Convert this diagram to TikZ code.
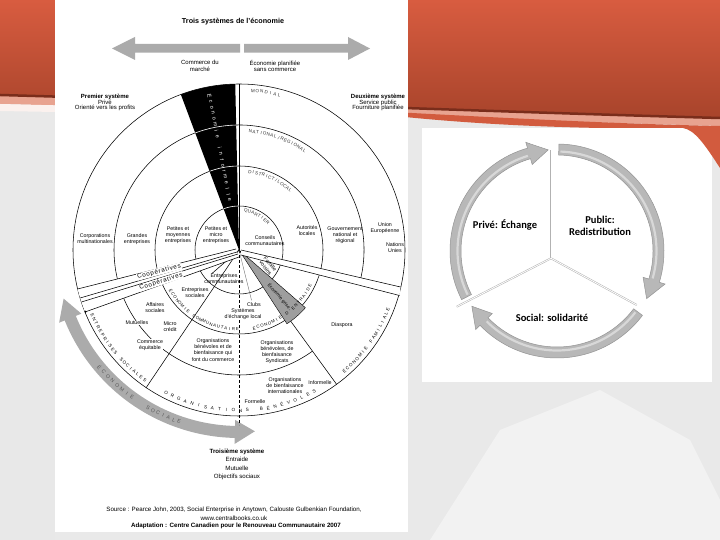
\documentclass[tikz,border=0pt]{standalone}
\usepackage{fontspec}
\setmainfont{Liberation Sans}
\newfontfamily\carl{Carlito}
\usetikzlibrary{calc}
\definecolor{redtop}{HTML}{D85C40}
\definecolor{redbot}{HTML}{A8442B}
\definecolor{reddark}{HTML}{7A2D1B}
\definecolor{pinkc}{HTML}{E8A390}
\definecolor{redmid}{HTML}{D25B3E}
\definecolor{bgg}{HTML}{E9E9E9}
\newcommand\myfs[2]{\fontsize{#1}{#2}\selectfont}
% letters along an arc: center, radius, start angle, step, rotation offset, style, list
\newcommand\arclet[7]{%
  \foreach \ch [count=\ii from 0] in {#7} {%
    \pgfmathsetmacro\ang{#3+\ii*#4}%
    \node[#6, rotate=\ang+#5] at ($(#1)+(\ang:#2)$) {\ch};
  }}
% curved arrow of the cycle: start angle, tip angle (clockwise)
\newcommand\cycarrow[2]{%
  \pgfmathsetmacro\hb{#2+11}%
  \filldraw[cyc] ($(K)+(#1:107)$) arc[start angle=#1, end angle=\hb, radius=107]
    -- ($(K)+(\hb:113)$) -- ($(K)+(#2:101.5)$) -- ($(K)+(\hb:90)$) -- ($(K)+(\hb:96)$)
    arc[start angle=\hb, end angle=#1, radius=96] -- cycle;
  \draw[white, opacity=0.45, line width=2.2] ($(K)+(#1-1:99.5)$) arc[start angle=#1-1, end angle=\hb+1, radius=99.5];
}
\tikzset{
  lab/.style={font=\myfs{5.3}{6.1}, align=center, inner sep=0pt},
  labw/.style={lab, fill=white, inner sep=0.5pt},
  ring/.style={line width=0.55pt},
  rlab/.style={font=\myfs{4.6}{4.6}, inner sep=0pt, text=black!80},
  olab/.style={font=\myfs{4.6}{4.6}, inner sep=0pt},
  ilab/.style={font=\myfs{4.3}{4.3}, inner sep=0pt},
  alab/.style={font=\myfs{5.2}{5.2}, inner sep=0pt, text=black!65},
  wlab/.style={font=\myfs{5.4}{5.4}, inner sep=0pt, text=white},
  garrow/.style={fill=black!33},
  cyc/.style={fill=black!28, draw=black!42, line width=0.5pt},
  cyclab/.style={font=\carl\bfseries\myfs{10.5}{12.5}, align=center, inner sep=0pt},
  coop/.style={font=\myfs{6.2}{6.2}\addfontfeature{LetterSpace=12}, fill=white, inner sep=0.5pt},
  sys/.style={font=\myfs{6}{5.9}, align=center, inner sep=0pt},
  src/.style={font=\myfs{6.2}{6.2}, inner sep=0pt},
}
\begin{document}
\begin{tikzpicture}[x=1pt,y=1pt]
\useasboundingbox (0,0) rectangle (720,540);
% ---------- slide background ----------
\fill[bgg] (0,0) rectangle (720,540);
\fill[black!9] (0,0) rectangle (55,250);
\fill[black!5] (430,0) -- (500,110) -- (600,150) -- (690,100) -- (720,40) -- (720,0) -- cycle;
% right panel
\fill[white] (422,158) rectangle (712,412);
% red header
\shade[top color=redtop, bottom color=redbot] (0,540) -- (720,540) -- (720,422)
  .. controls (500,428) and (250,438) .. (0,445) -- cycle;
\fill[pinkc] (0,445) .. controls (250,438) and (500,428) .. (720,422) -- (720,414)
  .. controls (500,420) and (250,430) .. (0,436) -- cycle;
\fill[redmid] (330,431.5) .. controls (500,422) and (620,416) .. (720,414) -- (720,372)
  .. controls (705,395) and (695,410) .. (683,412) -- (600,412)
  .. controls (500,414) and (420,420) .. (330,431.5) -- cycle;
\draw[reddark, line width=2.5] (0,445) .. controls (250,438) and (500,428) .. (720,422);
\fill[white!85!pinkc] (0,436) .. controls (20,435.5) and (40,435) .. (55,434.7) -- (55,428) -- (0,429) -- cycle;

% ---------- left panel ----------
\fill[white] (55,8) rectangle (408,540);
\begin{scope}
\clip (55,8) rectangle (408,540);
\coordinate (C) at (239,290);
% title and top arrows
\node[font=\bfseries\myfs{7.2}{7.2}] (title) at (233,518) {Trois systèmes de l'économie};
\fill[garrow] (112,491.5) -- (135,503) -- (135,496) -- (240,496) -- (240,487.3) -- (135,487.3) -- (135,480) -- cycle;
\fill[garrow] (370,491.5) -- (348,503) -- (348,496) -- (244,496) -- (244,487.3) -- (348,487.3) -- (348,480) -- cycle;
\node[lab, font=\myfs{6}{6.6}] (cm) at (200,474) {Commerce du\\marché};
\node[lab, font=\myfs{6}{6.6}] (ep) at (275,474) {Économie planifiée\\sans commerce};
\node[sys] (s1) at (105,437.5) {\textbf{Premier système}\\Privé\\Orienté vers les profits};
\node[sys] (s2) at (378,437.5) {\textbf{Deuxième système}\\Service public\\Fourniture planifiée};
% Économie sociale arrow
\fill[garrow] ($(C)+(202:188)$) arc[start angle=202, end angle=268.7, radius=188]
  -- ($(C)+(268.7:194)$) -- ($(C)+(275:182)$) -- ($(C)+(268.7:170)$) -- ($(C)+(268.7:176)$)
  arc[start angle=268.7, end angle=202, radius=176]
  -- ($(C)+(202:170)$) -- ($(C)+(195.5:182)$) -- ($(C)+(202:194)$) -- cycle;
\arclet{C}{182}{220}{2.0}{90}{alab}{É,C,O,N,O,M,I,E}
\arclet{C}{182}{240}{1.8}{90}{alab}{S,O,C,I,A,L,E}
% rings
\draw[ring] (C) circle[radius=166];
\draw[ring] (C) circle[radius=84];
\draw[ring] (C) circle[radius=44];
\draw[ring] ($(C)+(-13:125)$) arc[start angle=-13, end angle=193.6, radius=125];
\draw[ring] ($(C)+(202:125)$) arc[start angle=202, end angle=306, radius=125];
% vertical divider and black wedge
\draw[ring] (C) -- ($(C)+(90:166)$);
\fill[black] (C) -- ($(C)+(110.5:166)$) arc[start angle=110.5, end angle=91.3, radius=166] -- cycle;
\foreach \r in {125,84,44}
  \draw[white, line width=0.6] ($(C)+(91.3:\r)$) arc[start angle=91.3, end angle=110.5, radius=\r];
\foreach \ch [count=\ii from 0] in {É,c,o,n,o,m,i,e,{},i,n,f,o,r,m,e,l,l,e} {
  \pgfmathsetmacro\rr{157-\ii*5.9}
  \node[wlab, rotate=-79.25] at ($(C)+(100.75:\rr)$) {\ch};
}
% lower half lines
\draw[ring] (C) -- ($(C)+(236:166)$);
\draw[ring] (C) -- ($(C)+(221:36)$);
\draw[ring, densely dashed, line width=0.45] (C) -- (239,115);
\draw[black!60, line width=0.35] (C) -- ($(C)+(-76:52)$);
\filldraw[fill=black!38, draw=black, line width=0.4] (C) -- ($(C)+(-57:88)$) arc[start angle=-57, end angle=-41, radius=88] -- cycle;
\draw[ring] ($(C)+(-54:88)$) -- ($(C)+(-54:166)$);
% bands
\fill[white] (236,291) -- (77.6,251) -- (80.1,242) -- (81.4,238) -- (85,228) -- (239,283) -- cycle;
\draw[ring] (236,291) -- (77.6,251);
\draw[ring] (237,288) -- (80.1,242);
\draw[ring] (238,286) -- (81.4,238);
\draw[ring] (239,283) -- (85,228);
\fill[white] (241,290) -- (400.5,253) -- (399.5,244.5) -- (241,285) -- cycle;
\draw[ring] (241,290) -- (400.5,253);
\draw[ring] (241,285) -- (399.5,244.5);
\fill ($(C)+(201.9:165.5)$) circle[radius=1.1];
\node[coop, rotate=15] (coop1) at (159,268.5) {Coopératives};
\node[coop, rotate=18] (coop2) at (161,258.5) {Coopératives};
% ring names
\arclet{C}{160}{85}{-1.6}{-90}{rlab}{M,O,N,D,I,A,L}
\arclet{C}{119}{84.5}{-1.75}{-90}{rlab}{N,A,T,I,O,N,A,L,/,R,É,G,I,O,N,A,L}
\arclet{C}{79}{82}{-2.5}{-90}{rlab}{D,I,S,T,R,I,C,T,/,L,O,C,A,L}
\arclet{C}{39.5}{80}{-5.2}{-90}{rlab}{Q,U,A,R,T,I,E,R}
\arclet{C}{160.5}{204}{1.58}{90}{olab}{E,N,T,R,E,P,R,I,S,E,S,{},S,O,C,I,A,L,E,S}
\arclet{C}{160.5}{243}{2.5}{90}{olab}{O,R,G,A,N,I,S,A,T,I,O,N,S,{},B,É,N,É,V,O,L,E,S}
\arclet{C}{160.5}{311}{1.6}{90}{olab}{É,C,O,N,O,M,I,E,{},F,A,M,I,L,I,A,L,E}
\arclet{C}{79.5}{211}{2.75}{90}{ilab}{É,C,O,N,O,M,I,E,{},C,O,M,M,U,N,A,U,T,A,I,R,E}
\arclet{C}{79.5}{281}{2.9}{90}{ilab}{É,C,O,N,O,M,I,E,{},D,',E,N,T,R,A,I,D,E}
% upper labels
\node[lab] (l1) at (95,301) {Corporations\\multinationales};
\node[lab] (l2) at (137,301) {Grandes\\entreprises};
\node[lab] (l3) at (178,305) {Petites et\\moyennes\\entreprises};
\node[lab] (l4) at (216,305) {Petites et\\micro\\entreprises};
\node[lab] (r1) at (265,299) {Conseils\\communautaires};
\node[lab] (r2) at (307,309) {Autorités\\locales};
\node[lab] (r3) at (345,305) {Gouvernement\\national et\\régional};
\node[lab] (r4) at (385,311.5) {Union\\Européenne};
\node[lab] (r5) at (395,292.5) {Nations\\Unies};
% lower labels
\node[lab] (b1) at (224,261) {Entreprises\\communautaires};
\node[lab] (b2) at (195,247) {Entreprises\\sociales};
\node[lab] (b3) at (155,232.5) {Affaires\\sociales};
\node[labw] (b4) at (137,217) {Mutuelles};
\node[lab] (b5) at (170,213.5) {Micro\\crédit};
\node[labw] (b6) at (150,195) {Commerce\\équitable};
\node[lab] (b7) at (213,190) {Organisations\\bénévoles et de\\bienfaisance qui\\font du commerce};
\node[lab] (b8) at (277,188) {Organisations\\bénévoles, de\\bienfaisance\\Syndicats};
\node[lab] (b9) at (285,154) {Organisations\\de bienfaisance\\internationales};
\node[labw] (b10) at (255,138) {Formelle};
\node[labw] (b11) at (320,157) {Informelle};
\node[lab] (b12) at (342,215) {Diaspora};
\node[labw] (b13) at (254,235) {Clubs};
\node[labw] (b14) at (243,226) {Systèmes\\d'échange local};
\node[lab, rotate=-50] (b15) at (268,274) {Famille\\voisins};
\node[lab, font=\myfs{4.6}{5}, rotate=-49] (b16) at (279,244) {Économie grise};
% bottom texts
\node[sys, font=\myfs{6.1}{8.3}] (s3) at (237,75.5) {\textbf{Troisième système}\\Entraide\\Mutuelle\\Objectifs sociaux};
\node[src] (src1) at (234,30) {Source : Pearce John, 2003, Social Enterprise in Anytown, Calouste Gulbenkian Foundation,};
\node[src] (src2) at (234,22) {www.centralbooks.co.uk};
\node[src, font=\bfseries\myfs{6.2}{6.2}] (src3) at (236,14) {Adaptation : Centre Canadien pour le Renouveau Communautaire 2007};
\end{scope}

% ---------- right panel: three systems cycle ----------
\coordinate (K) at (557,289);
\coordinate (M) at (551,281.7);
\coordinate (Ktop) at (551,390);
\coordinate (Kll) at (456.7,233.3);
\coordinate (Klr) at (636.7,235);
\foreach \e in {Ktop,Kll,Klr} {
  \draw[black!30, line width=1.8] (M) -- (\e);
  \draw[white, line width=0.8] (M) -- (\e);
}
\cycarrow{89}{-28}
\cycarrow{-37}{-147}
\cycarrow{207}{95}
\node[cyclab] (prive) at (505,315) {Privé: Échange};
\node[cyclab] (public) at (600,314) {Public:\\Redistribution};
\node[cyclab] (social) at (552,222) {Social: solidarité};
\end{tikzpicture}
\end{document}
